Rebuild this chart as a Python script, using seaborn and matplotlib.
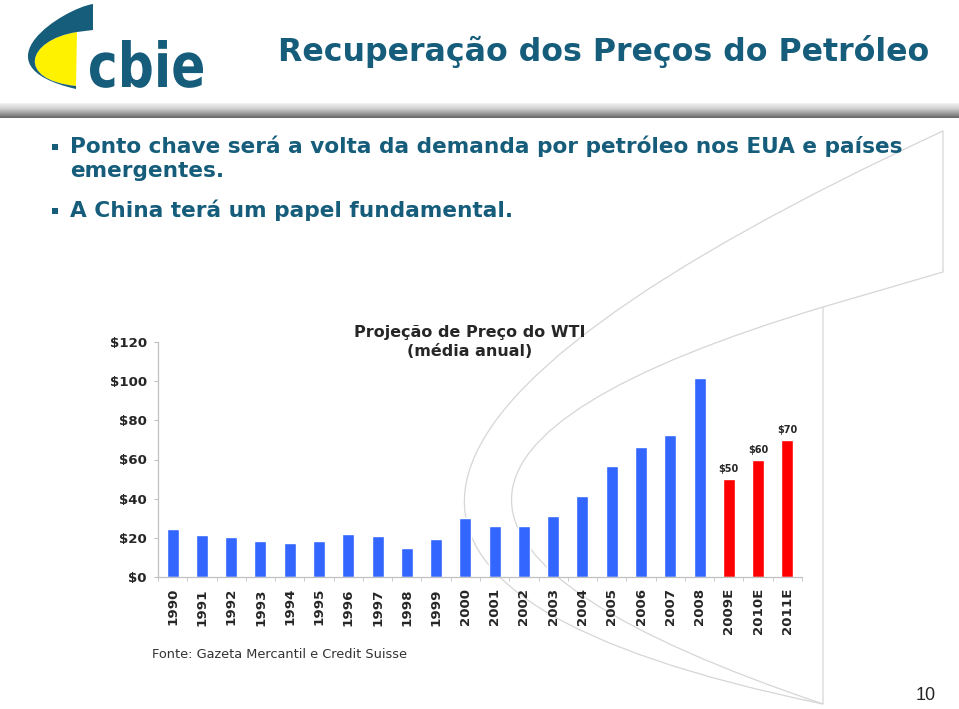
import matplotlib
matplotlib.use("Agg")
import matplotlib.pyplot as plt
import numpy as np
import pandas as pd
import seaborn as sns
from matplotlib.path import Path
from matplotlib.patches import PathPatch, Rectangle
from matplotlib.colors import LinearSegmentedColormap
from matplotlib.textpath import TextPath
from matplotlib.font_manager import FontProperties
from matplotlib.transforms import Affine2D

# Dados (preço médio anual do WTI, US$/barril)
anos = ["1990", "1991", "1992", "1993", "1994", "1995", "1996", "1997",
        "1998", "1999", "2000", "2001", "2002", "2003", "2004", "2005",
        "2006", "2007", "2008", "2009E", "2010E", "2011E"]
precos = [24.5, 21.6, 20.6, 18.5, 17.3, 18.5, 22.1, 20.7, 14.6, 19.4,
          30.3, 26.0, 26.2, 31.3, 41.5, 56.6, 66.2, 72.3, 101.4,
          50, 60, 70]
tipos = ["Histórico"] * 19 + ["Projeção"] * 3
yticks = [0, 20, 40, 60, 80, 100, 120]

titulo = "Recuperação dos Preços do Petróleo"
bullet1 = ["Ponto chave será a volta da demanda por petróleo nos EUA e países",
           "emergentes."]
bullet2 = "A China terá um papel fundamental."
titulo_grafico = "Projeção de Preço do WTI\n(média anual)"
fonte = "Fonte: Gazeta Mercantil e Credit Suisse"

sns.set_style("white")
plt.rcParams["font.family"] = ["DejaVu Sans"]

TEAL = "#155d7b"
AZUL = "#3366ff"
VERMELHO = "#ff0000"
DECO = "#d6d6d6"

W, H = 959, 709
fig = plt.figure(figsize=(W / 100, H / 100), dpi=100)

# fundo do slide em coordenadas de pixel
bg = fig.add_axes([0, 0, 1, 1])
grad = np.linspace(0, 1, 50).reshape(-1, 1)
cmap_barra = LinearSegmentedColormap.from_list(
    "barra", ["#f2f2f2", "#d4d4d4", "#a0a0a0", "#666666"])
bg.imshow(grad, extent=[0, W, 118, 103], cmap=cmap_barra, aspect="auto")
bg.set_xlim(0, W)
bg.set_ylim(H, 0)
bg.axis("off")

# linhas decorativas do fundo
curvas = [
    Path([(943, 131), (50, 545), (823, 704)], [Path.MOVETO, Path.CURVE3, Path.CURVE3]),
    Path([(823, 307), (200, 494), (823, 704)], [Path.MOVETO, Path.CURVE3, Path.CURVE3]),
]
for c in curvas:
    bg.add_patch(PathPatch(c, fill=False, ec=DECO, lw=0.9))
bg.plot([943, 943, 823, 823], [131, 272, 307, 704], color=DECO, lw=0.9)

# logo cbie
teal_path = Path(
    [(93, 4), (65, 8), (-28, 65), (76, 89),
     (76, 86), (16, 80), (26, 40), (77, 32),
     (93, 30), (93, 4)],
    [Path.MOVETO, Path.CURVE4, Path.CURVE4, Path.CURVE4,
     Path.LINETO, Path.CURVE4, Path.CURVE4, Path.CURVE4,
     Path.LINETO, Path.CLOSEPOLY])
amarelo_path = Path(
    [(77, 32), (26, 40), (16, 80), (76, 86), (77, 32)],
    [Path.MOVETO, Path.CURVE4, Path.CURVE4, Path.CURVE4, Path.CLOSEPOLY])
bg.add_patch(PathPatch(amarelo_path, fc="#fff200", ec="none"))
bg.add_patch(PathPatch(teal_path, fc=TEAL, ec="none"))

# texto do logo estreitado (fonte condensada)
tp = TextPath((0, 0), "cbie", size=1, prop=FontProperties(family="DejaVu Sans", weight="bold"))
ext = tp.get_extents()
sx = 113 / ext.width
sy = 47 / ext.y1
tr = Affine2D().translate(-ext.x0, 0).scale(sx, -sy).translate(90, 87)
bg.add_patch(PathPatch(tr.transform_path(tp), fc=TEAL, ec="none"))

# marcadores dos bullets
for yb in [147, 211]:
    bg.add_patch(Rectangle((52, yb - 3), 5.5, 5.5, fc=TEAL, ec="none"))

# textos do slide
fig.text(278 / W, 1 - 52 / H, titulo, ha="left", va="center",
         fontsize=22.8, fontweight="bold", color=TEAL)
fig.text(70 / W, 1 - 146 / H, bullet1[0], ha="left", va="center",
         fontsize=15.6, fontweight="bold", color=TEAL)
fig.text(70 / W, 1 - 171 / H, bullet1[1], ha="left", va="center",
         fontsize=15.6, fontweight="bold", color=TEAL)
fig.text(70 / W, 1 - 210 / H, bullet2, ha="left", va="center",
         fontsize=15.6, fontweight="bold", color=TEAL)

# grafico
df = pd.DataFrame({"ano": anos, "preco": precos, "tipo": tipos})
ax = fig.add_axes([158 / W, 1 - 577 / H, (802 - 158) / W, (577 - 342) / H])
ax.set_facecolor("none")
sns.barplot(data=df, x="ano", y="preco", hue="tipo",
            palette={"Histórico": AZUL, "Projeção": VERMELHO},
            dodge=False, width=0.41, saturation=1, legend=False, ax=ax)

ax.set_xlim(-0.5, len(anos) - 0.5)
ax.set_ylim(0, 120)
ax.set_yticks(yticks)
ax.set_yticklabels([f"${v}" for v in yticks], fontweight="bold", fontsize=9.6)
ax.set_xticks(range(len(anos)))
ax.set_xticklabels(anos, rotation=90, fontweight="bold", fontsize=9.6)
ax.set_xticks(np.arange(-0.5, len(anos), 1), minor=True)
ax.set_xlabel("")
ax.set_ylabel("")

for s in ["top", "right"]:
    ax.spines[s].set_visible(False)
for s in ["left", "bottom"]:
    ax.spines[s].set_color("#c0c0c0")
    ax.spines[s].set_linewidth(0.9)
ax.tick_params(axis="y", which="major", length=3, color="#c0c0c0", pad=5, left=True)
ax.tick_params(axis="x", which="major", length=0, pad=8)
ax.tick_params(axis="x", which="minor", length=3, color="#c0c0c0", bottom=True)

for i, (v, t) in enumerate(zip(precos, tipos)):
    if t == "Projeção":
        ax.text(i, v + 2.5, f"${v:.0f}", ha="center", va="bottom",
                fontsize=7, fontweight="bold")

fig.text(470 / W, 1 - 342 / H, titulo_grafico, ha="center", va="center",
         fontsize=11.5, fontweight="bold", linespacing=1.3)
fig.text(152 / W, 1 - 654 / H, fonte, ha="left", va="center",
         fontsize=9.3, color="#333333")
fig.text(936 / W, 1 - 695 / H, "10", ha="right", va="center",
         fontsize=13, family=["Liberation Sans", "DejaVu Sans"])

fig.savefig("out.png", dpi=100)
